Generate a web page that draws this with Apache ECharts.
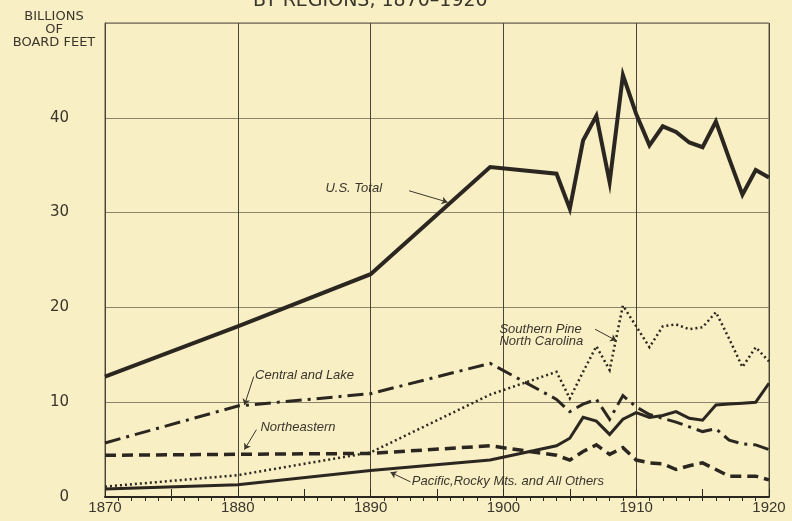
<!DOCTYPE html>
<html>
<head>
<meta charset="utf-8">
<script src="https://cdn.jsdelivr.net/npm/echarts@6/dist/echarts.min.js"></script>
<style>
  html, body { margin: 0; padding: 0; background: #f9efc4; }
  #chart { width: 792px; height: 521px; }
</style>
</head>
<body>
<div id="chart"></div>
<script>
// lumber production by regions, billions of board feet
var years = [1870, 1880, 1890, 1899, 1904, 1905, 1906, 1907, 1908, 1909, 1910, 1911, 1912, 1913, 1914, 1915, 1916, 1917, 1918, 1919, 1920];
var usTotal = [12.7, 18.0, 23.5, 34.8, 34.1, 30.4, 37.6, 40.2, 33.2, 44.5, 40.4, 37.1, 39.1, 38.5, 37.4, 36.9, 39.6, 35.7, 31.9, 34.5, 33.7];
var southernPine = [1.1, 2.3, 4.7, 10.8, 13.2, 10.4, 13.2, 15.9, 13.4, 20.2, 18.0, 15.8, 18.0, 18.2, 17.7, 17.9, 19.5, 16.7, 13.7, 15.8, 14.3];
var centralLake = [5.7, 9.6, 10.9, 14.1, 10.3, 9.0, 9.8, 10.3, 8.2, 10.7, 9.5, 8.7, 8.3, 7.9, 7.4, 6.9, 7.2, 6.0, 5.6, 5.5, 5.0];
var northeastern = [4.4, 4.5, 4.6, 5.4, 4.4, 3.9, 4.8, 5.5, 4.5, 5.2, 3.9, 3.6, 3.5, 2.9, 3.3, 3.6, 2.9, 2.2, 2.2, 2.2, 1.8];
var pacific = [0.85, 1.3, 2.8, 3.9, 5.4, 6.2, 8.4, 8.0, 6.6, 8.2, 8.9, 8.4, 8.6, 9.0, 8.3, 8.1, 9.7, 9.8, 9.9, 10.0, 12.0];
var yTicks = [0, 10, 20, 30, 40];

var ink = '#2b2720';
var paper = '#f9efc4';

function pairs(vals) {
    var out = [];
    for (var i = 0; i < years.length; i++) {
        out.push([years[i], vals[i]]);
    }
    return out;
}

// label text placed at a data position, with a curved arrow to the line
function note(text, at, from, to, curve) {
    return {
        markPoint: {
            symbol: 'circle',
            symbolSize: 0,
            silent: true,
            label: {
                show: true,
                position: 'right',
                distance: 0,
                formatter: text,
                fontFamily: 'Liberation Sans',
                fontStyle: 'italic',
                fontSize: 13,
                lineHeight: 12,
                color: '#3a352c'
            },
            data: [{ coord: at }]
        },
        markLine: {
            silent: true,
            symbol: ['none', 'arrow'],
            symbolSize: 6,
            label: { show: false },
            lineStyle: { color: '#3a352c', type: 'solid', width: 1, curveness: curve },
            data: [[{ coord: from }, { coord: to }]]
        }
    };
}

function line(name, vals, width, type, extra) {
    var s = {
        name: name,
        type: 'line',
        data: pairs(vals),
        showSymbol: false,
        symbol: 'none',
        lineStyle: { color: ink, width: width, type: type, cap: 'butt', join: 'miter' },
        z: 3
    };
    for (var k in extra) s[k] = extra[k];
    return s;
}

var chart = echarts.init(document.getElementById('chart'));
var option = {
    backgroundColor: paper,
    animation: false,
    title: {
        text: 'BY REGIONS, 1870\u20131920',
        left: 248,
        top: -13,
        textStyle: { fontFamily: 'DejaVu Sans', fontWeight: 'normal', fontSize: 19, color: '#3a352c' }
    },
    graphic: [{
        type: 'text',
        x: 54,
        y: 10,
        style: {
            text: 'BILLIONS\nOF\nBOARD FEET',
            align: 'center',
            verticalAlign: 'top',
            fontFamily: 'DejaVu Sans',
            fontSize: 13,
            lineHeight: 13,
            fill: '#3a352c'
        }
    }],
    grid: {
        left: 105, right: 23, top: 23, bottom: 24,
        show: true,
        borderColor: '#5a5446',
        borderWidth: 1
    },
    xAxis: [{
        type: 'value',
        min: 1870, max: 1920, interval: 10,
        axisLine: { show: true, lineStyle: { color: ink, width: 2 } },
        axisTick: { show: false },
        minorTick: { show: true, splitNumber: 10, length: 4, lineStyle: { color: ink, width: 1 } },
        axisLabel: {
            margin: 3,
            fontFamily: 'Liberation Sans',
            fontSize: 15,
            color: '#3a352c',
            formatter: function (v) { return String(v); }
        },
        splitLine: { show: true, lineStyle: { color: '#4a4538', width: 1 } }
    }, {
        type: 'value',
        position: 'bottom',
        min: 1870, max: 1920, interval: 5,
        axisLine: { show: false },
        axisTick: { show: true, inside: true, length: 8, lineStyle: { color: ink, width: 1 } },
        axisLabel: { show: false },
        splitLine: { show: false }
    }],
    yAxis: {
        type: 'value',
        min: 0, max: 50, interval: 10,
        axisLine: { show: true, lineStyle: { color: '#4a4538', width: 1 } },
        axisTick: { show: false },
        axisLabel: {
            margin: 36,
            fontFamily: 'DejaVu Sans',
            fontSize: 15,
            color: '#3a352c',
            formatter: function (v) { return yTicks.indexOf(v) >= 0 ? String(v) : ''; }
        },
        splitLine: { show: true, lineStyle: { color: '#8c846c', width: 1 } }
    },
    series: [
        line('U.S. Total', usTotal, 4, 'solid',
            note('U.S. Total', [1886.6, 32.6], [1892.9, 32.3], [1895.8, 31.1], -0.2)),
        line('Southern Pine North Carolina', southernPine, 2.5, [2, 3],
            note('Southern Pine\nNorth Carolina', [1899.7, 17.1], [1906.9, 17.7], [1908.5, 16.5], -0.2)),
        line('Central and Lake', centralLake, 3, [16, 6, 3, 6],
            note('Central and Lake', [1881.3, 12.8], [1881.2, 12.7], [1880.5, 9.7], 0.3)),
        line('Northeastern', northeastern, 3.5, [11, 6],
            note('Northeastern', [1881.7, 7.3], [1881.4, 7.1], [1880.5, 5.0], 0.3)),
        line('Pacific, Rocky Mts. and All Others', pacific, 3, 'solid',
            note('Pacific,Rocky Mts. and All Others', [1893.1, 1.6], [1893.0, 1.6], [1891.5, 2.6], 0.3))
    ]
};
chart.setOption(option);
</script>
</body>
</html>
